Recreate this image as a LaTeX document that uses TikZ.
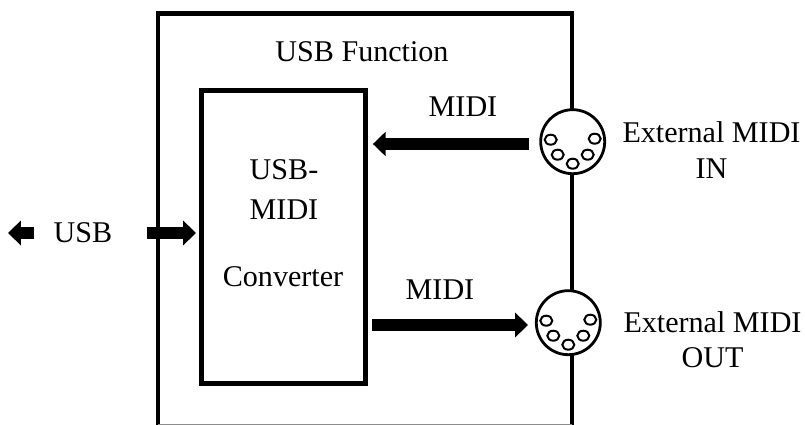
\documentclass[tikz,border=0pt]{standalone}
\usepackage{fontspec}
\setmainfont{Liberation Serif}
\usetikzlibrary{arrows.meta}
\tikzset{
  label text/.style = {font = \fontsize{21.4}{25}\selectfont, align = center},
  box line/.style = {line width = 0.12cm},
  fat arrow/.style = {line width = 0.31cm, -{Triangle[length = 0.32cm, width = 0.6cm]}},
  jack/.style = {circle, draw, fill = white, line width = 0.07cm, minimum size = 1.6cm, inner sep = 0pt},
  pin/.style = {draw, line width = 0.05cm, fill = white}
}
\begin{document}
\begin{tikzpicture}[x = 0.025cm, y = -0.025cm, draw = black]
\useasboundingbox (0,0) rectangle (805,425);
% outer function box
\draw[box line] (158,426) -- (158,13.5) -- (572,13.5) -- (572,426);
\draw[line width = 0.03cm, black!45] (158,424.6) -- (572,424.6);
\node[label text] (function) at (362,52) {USB Function};
% converter box
\node[draw, box line, minimum width = 4.09cm, minimum height = 7.32cm] (conv) at (283.7,237) {};
\node[label text] (usbtop) at (284,170) {USB-};
\node[label text] (midi) at (284,210) {MIDI};
\node[label text] (converter) at (283,277) {Converter};
% jacks
\node[jack] (jackin) at (572.7,141.7) {};
\node[jack] (jackout) at (568.3,322.7) {};
\foreach \jk in {jackin, jackout} {
  \foreach \px/\py in {-22/-2, -15/13, 0/22, 15/13, 22/-3} {
    \draw[pin] ([shift = {(\px,\py)}]\jk.center) ellipse (0.15cm and 0.125cm);
  }
}
\node[label text] (extin) at (711.5,150) {External MIDI\\IN};
\node[label text] (extout) at (712.5,340) {External MIDI\\OUT};
% midi arrows
\node[label text] (midiin) at (463,107) {MIDI};
\node[label text] (midiout) at (440,290) {MIDI};
\coordinate (intail) at (529,144);
\coordinate (outhead) at (528,325);
\draw[fat arrow, shorten >= 0.125cm] (intail) -- (conv.east |- intail);
\draw[fat arrow, shorten <= 0.1cm] (conv.east |- outhead) -- (outhead);
% usb side
\node[label text] (usb) at (83,233) {USB};
\coordinate (usbl) at (34,233);
\coordinate (usbtip) at (8,233);
\coordinate (usbr) at (147,233);
\coordinate (usbhead) at (196,233);
\draw[fat arrow] (usbl) -- (usbtip);
\draw[fat arrow] (usbr) -- (usbhead);
\end{tikzpicture}
\end{document}
